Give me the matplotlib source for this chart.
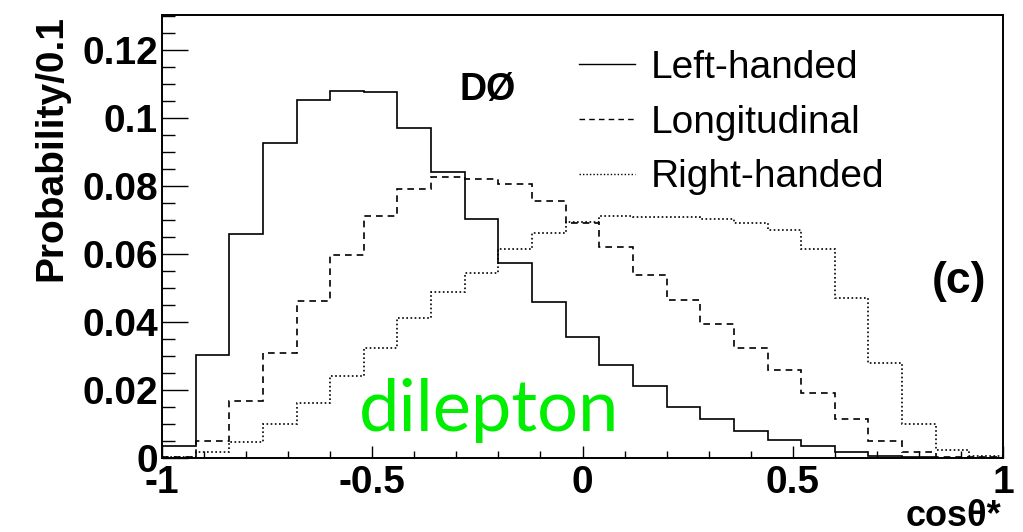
import numpy as np
import matplotlib
matplotlib.use("Agg")
import matplotlib.pyplot as plt
from matplotlib.ticker import MultipleLocator, FixedLocator, FuncFormatter

# bin structure: 25 bins on cos(theta*) from -1 to 1
edges = np.linspace(-1, 1, 26)

# values, one per bin
left_handed = [0.0035, 0.0303, 0.0659, 0.0927, 0.1053, 0.1080, 0.1077, 0.0972,
               0.0841, 0.0704, 0.0573, 0.0459, 0.0357, 0.0274, 0.0213, 0.0150,
               0.0114, 0.0078, 0.0053, 0.0036, 0.0017, 0.0007, 0.0002, 0.0001, 0.0]
longitudinal = [0.0004, 0.0051, 0.0169, 0.0308, 0.0463, 0.0598, 0.0712, 0.0792,
                0.0826, 0.0822, 0.0805, 0.0756, 0.0692, 0.0622, 0.0538, 0.0465,
                0.0394, 0.0323, 0.0259, 0.0190, 0.0116, 0.0051, 0.0017, 0.0004, 0.0002]
right_handed = [0.0002, 0.0017, 0.0046, 0.0099, 0.0161, 0.0242, 0.0325, 0.0412,
                0.0487, 0.0545, 0.0614, 0.0661, 0.0695, 0.0712, 0.0710, 0.0708,
                0.0703, 0.0690, 0.0671, 0.0616, 0.0471, 0.0280, 0.0099, 0.0024, 0.0006]

labels = ["Left-handed", "Longitudinal", "Right-handed"]
styles = ["-", (0, (4, 3)), (0, (1, 1.5))]

plt.rcParams['font.family'] = ['Liberation Sans', 'DejaVu Sans']
plt.rcParams['axes.unicode_minus'] = False

fig = plt.figure(figsize=(10.23, 5.32), dpi=100)
ax = fig.add_axes([162/1023, 1 - 458/532, 841/1023, 443/532])

for vals, lab, ls in zip([left_handed, longitudinal, right_handed], labels, styles):
    ax.stairs(vals, edges, baseline=None, color="black", linestyle=ls,
              linewidth=1.2, label=lab)

ax.set_xlim(-1, 1)
ax.set_ylim(0, 0.1303)

for s in ax.spines.values():
    s.set_linewidth(1.4)

ax.xaxis.set_major_locator(FixedLocator([-1, -0.5, 0, 0.5, 1]))
ax.xaxis.set_minor_locator(MultipleLocator(0.1))
ax.yaxis.set_major_locator(MultipleLocator(0.02))
ax.yaxis.set_minor_locator(MultipleLocator(0.005))
fmt = FuncFormatter(lambda v, p: "%g" % round(v, 4))
ax.xaxis.set_major_formatter(fmt)
ax.yaxis.set_major_formatter(fmt)

ax.tick_params(axis="both", which="both", direction="in", width=1.0,
               top=False, right=False)
ax.tick_params(axis="x", which="major", length=9, pad=5)
ax.tick_params(axis="x", which="minor", length=5)
ax.tick_params(axis="y", which="major", length=19, pad=3)
ax.tick_params(axis="y", which="minor", length=9.5)
for lab in ax.get_xticklabels() + ax.get_yticklabels():
    lab.set_fontsize(28)
    lab.set_fontweight("bold")

leg = ax.legend(loc="upper left", bbox_to_anchor=(0.454, 1.0), frameon=False,
                fontsize=28, handlelength=1.45, handletextpad=0.4,
                labelspacing=0.48, borderaxespad=0.5)
for h in leg.get_lines():
    h.set_linewidth(1.0)

ax.text(0.3876, 0.808, "DØ", transform=ax.transAxes, ha="center",
        va="baseline", fontsize=27, fontweight="bold")
ax.text(0.9477, 0.372, "(c)", transform=ax.transAxes, ha="center",
        va="baseline", fontsize=32, fontweight="bold")
ax.text(0.3884, 0.06, "dilepton", transform=ax.transAxes, ha="center",
        va="baseline", fontsize=52, color="#00ee00", family="Lato")

fig.text(51/1023, 1 - 15/532, "Probability/0.1", rotation=90, ha="center",
         va="top", fontsize=28, fontweight="bold")
fig.text(1001/1023, 1 - 526/532, "cosθ*", ha="right", va="baseline",
         fontsize=26, fontweight="bold")

fig.savefig("out.png", dpi=100)
